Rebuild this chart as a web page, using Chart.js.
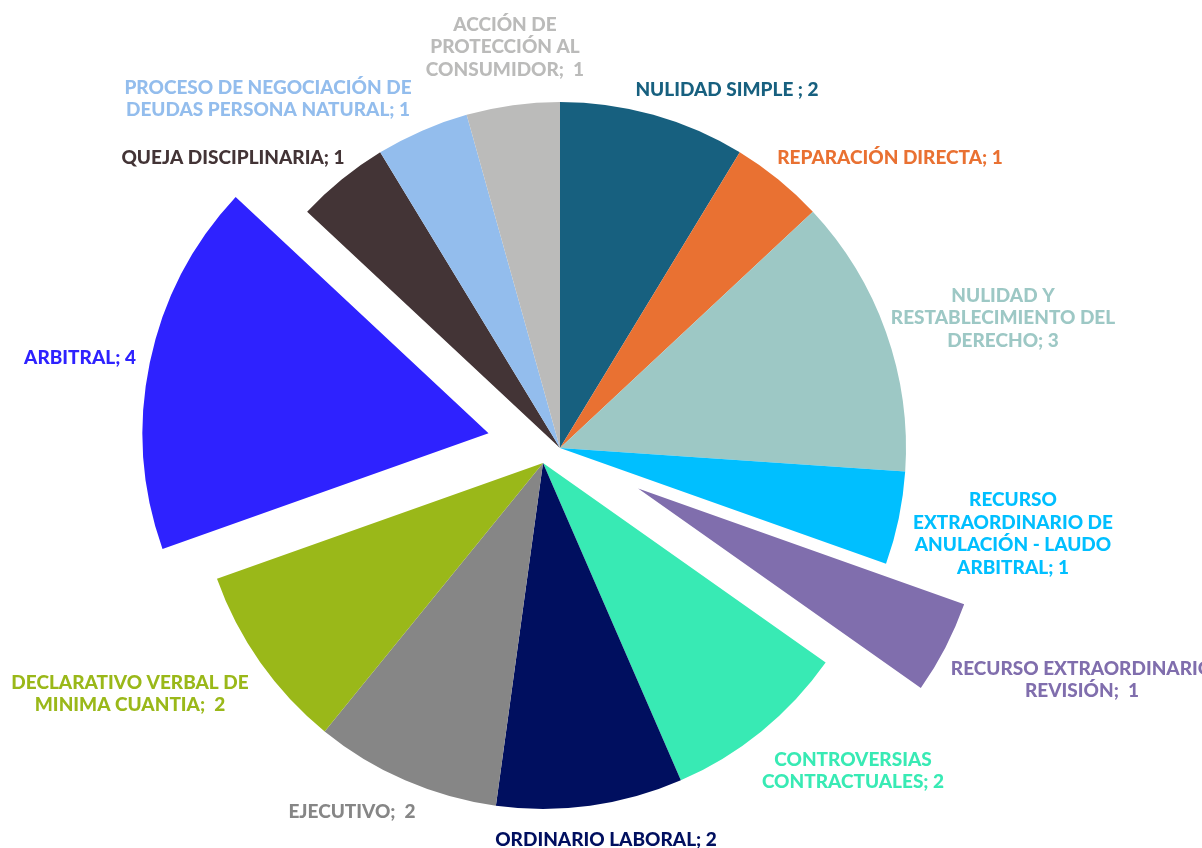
<!DOCTYPE html>
<html>
<head>
<meta charset="utf-8">
<script src="https://cdn.jsdelivr.net/npm/chart.js@4.4.1/dist/chart.umd.min.js"></script>
<style>
    html, body { margin: 0; padding: 0; background: #ffffff; }
    #contenedor { width: 1202px; height: 848px; position: relative; }
</style>
</head>
<body>
<div id="contenedor"><canvas id="graficoProcesos"></canvas></div>
<script>
// Tipos de proceso (cada uno puede ir en varias líneas)
const categorias = [
    ['NULIDAD SIMPLE '],
    ['REPARACIÓN DIRECTA'],
    ['NULIDAD Y', 'RESTABLECIMIENTO DEL', 'DERECHO'],
    ['RECURSO', 'EXTRAORDINARIO DE', 'ANULACIÓN - LAUDO', 'ARBITRAL'],
    ['RECURSO EXTRAORDINARIO', 'REVISIÓN'],
    ['CONTROVERSIAS', 'CONTRACTUALES'],
    ['ORDINARIO LABORAL'],
    ['EJECUTIVO'],
    ['DECLARATIVO VERBAL DE', 'MINIMA CUANTIA'],
    ['ARBITRAL'],
    ['QUEJA DISCIPLINARIA'],
    ['PROCESO DE NEGOCIACIÓN DE', 'DEUDAS PERSONA NATURAL'],
    ['ACCIÓN DE', 'PROTECCIÓN AL', 'CONSUMIDOR']
];
// Cantidad de procesos por tipo
const cantidades = [2, 1, 3, 1, 1, 2, 2, 2, 2, 4, 1, 1, 1];
// Espacio entre el ";" y el número en cada etiqueta
const espacioValor = [' ', ' ', ' ', ' ', '  ', ' ', ' ', '  ', '  ', ' ', ' ', ' ', '  '];

const colores = [
    '#17607F', '#E97132', '#9DC8C5', '#00BFFF', '#806EAD', '#38EAB4', '#000F5F',
    '#868686', '#9AB819', '#2E22FF', '#433436', '#93BDED', '#BBBBBA'
];

// Separación de porciones: radial (px) y desplazamiento del grupo inferior
const explosion = [0, 0, 0, 0, 88, 0, 0, 0, 0, 73, 0, 0, 0];
const grupoInferior = { indices: [5, 6, 7, 8], dx: -17, dy: 15 };

// Centro de cada bloque de texto respecto al centro del pastel
const posEtiquetas = [
    [167, -358], [330, -290], [443, -130], [453, 86], [522, 232],
    [293, 323], [46, 392], [-208, 364], [-430, 246], [-480, -90],
    [-327, -290], [-292, -349], [-55, -401]
];
const altoLinea = 22.5;

// Mueve las porciones separadas después de que Chart.js calcula su geometría
const separarPorciones = {
    id: 'separarPorciones',
    afterDatasetsUpdate(chart) {
        const meta = chart.getDatasetMeta(0);
        meta.data.forEach(function (arco, i) {
            const medio = (arco.startAngle + arco.endAngle) / 2;
            arco.x += Math.cos(medio) * explosion[i];
            arco.y += Math.sin(medio) * explosion[i];
            if (grupoInferior.indices.includes(i)) {
                arco.x += grupoInferior.dx;
                arco.y += grupoInferior.dy;
            }
        });
    }
};

// Etiquetas "categoría; valor" con el color de su porción
const etiquetas = {
    id: 'etiquetas',
    afterDatasetsDraw(chart) {
        const ctx = chart.ctx;
        const area = chart.chartArea;
        const cx = (area.left + area.right) / 2;
        const cy = (area.top + area.bottom) / 2;
        ctx.save();
        ctx.font = '900 19px Lato';
        ctx.textAlign = 'center';
        ctx.textBaseline = 'middle';
        categorias.forEach(function (lineas, i) {
            const texto = lineas.slice();
            texto[texto.length - 1] += ';' + espacioValor[i] + cantidades[i];
            const x = cx + posEtiquetas[i][0];
            const y0 = cy + posEtiquetas[i][1] - (texto.length - 1) * altoLinea / 2;
            ctx.fillStyle = colores[i];
            texto.forEach(function (linea, j) {
                ctx.fillText(linea, x, y0 + j * altoLinea);
            });
        });
        ctx.restore();
    }
};

new Chart(document.getElementById('graficoProcesos'), {
    type: 'pie',
    data: {
        labels: categorias,
        datasets: [{
            data: cantidades,
            backgroundColor: colores,
            borderWidth: 0
        }]
    },
    options: {
        responsive: true,
        maintainAspectRatio: false,
        animation: false,
        radius: 346,
        layout: {
            padding: { left: 0, right: 82, top: 48, bottom: 0 }
        },
        plugins: {
            legend: { display: false },
            tooltip: { enabled: false }
        }
    },
    plugins: [separarPorciones, etiquetas]
});
</script>
</body>
</html>
